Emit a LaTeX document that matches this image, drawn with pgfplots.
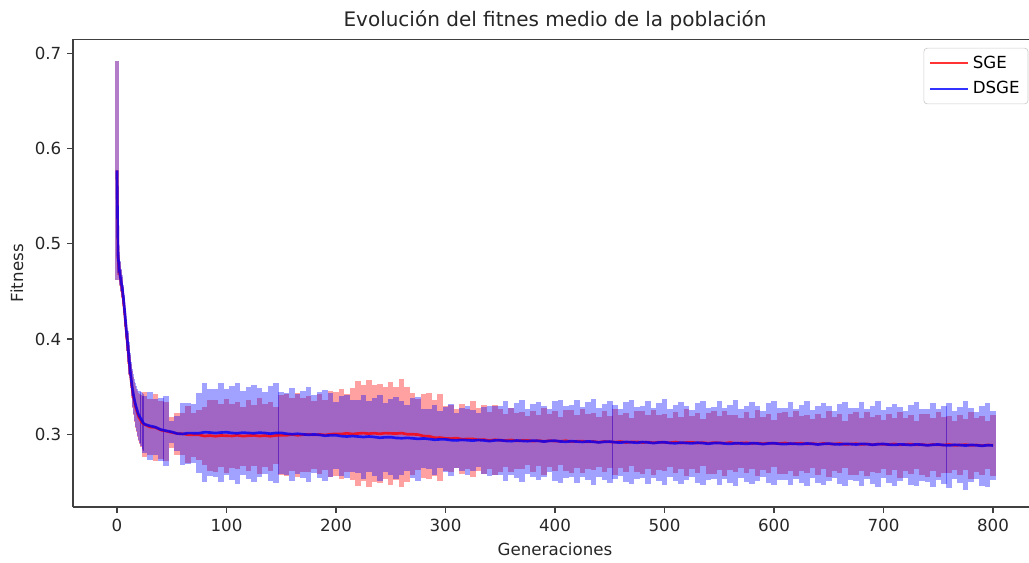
\documentclass[border=0pt]{standalone}
\usepackage{pgfplots}
\pgfplotsset{compat=1.18}
\usepackage{pgfplotstable}
\usepackage{fontspec}
\setmainfont{DejaVu Sans}

% SGE, generations 0-25 (one row per generation)
\pgfplotstableread{
x y e
0 0.577 0.115
1 0.485 0.018
2 0.472 0.016
3 0.465 0.016
4 0.458 0.015
5 0.450 0.015
6 0.440 0.015
7 0.428 0.015
8 0.415 0.015
9 0.402 0.015
10 0.390 0.016
11 0.378 0.016
12 0.366 0.017
13 0.356 0.018
14 0.347 0.019
15 0.340 0.020
16 0.334 0.021
17 0.329 0.022
18 0.325 0.023
19 0.321 0.024
20 0.318 0.025
21 0.316 0.026
22 0.314 0.027
23 0.312 0.028
24 0.311 0.029
25 0.3104 0.034
}\sgeEarly

% SGE, generations 25-800 (every 5)
\pgfplotstableread{
x y e
25 0.3104 0.034
30 0.3077 0.029
35 0.3072 0.035
40 0.3045 0.030
45 0.3033 0.031
50 0.3020 0.016
55 0.3008 0.022
60 0.3005 0.022
65 0.2996 0.030
70 0.2996 0.023
75 0.2994 0.026
80 0.2982 0.030
85 0.2987 0.037
90 0.2980 0.038
95 0.2988 0.033
100 0.2985 0.039
105 0.2983 0.034
110 0.2990 0.035
115 0.2981 0.031
120 0.2986 0.037
125 0.2989 0.032
130 0.2982 0.040
135 0.2987 0.033
140 0.2980 0.036
145 0.2988 0.030
150 0.2990 0.042
155 0.2990 0.043
160 0.2998 0.038
165 0.2990 0.044
170 0.2996 0.039
175 0.3000 0.040
180 0.2994 0.036
185 0.2999 0.042
190 0.2993 0.037
195 0.3001 0.045
200 0.3005 0.044
205 0.3003 0.047
210 0.3011 0.041
215 0.3003 0.048
220 0.3009 0.055
225 0.3013 0.050
230 0.3007 0.056
235 0.3012 0.051
240 0.3005 0.052
245 0.3013 0.048
250 0.3010 0.054
255 0.3008 0.049
260 0.3013 0.057
265 0.3001 0.050
270 0.3001 0.043
275 0.2997 0.037
280 0.2982 0.044
285 0.2980 0.045
290 0.2965 0.040
295 0.2966 0.046
300 0.2958 0.034
305 0.2955 0.035
310 0.2960 0.031
315 0.2949 0.037
320 0.2951 0.032
325 0.2952 0.040
330 0.2942 0.033
335 0.2945 0.036
340 0.2935 0.030
345 0.2943 0.037
350 0.2938 0.033
355 0.2935 0.028
360 0.2941 0.034
365 0.2931 0.029
370 0.2935 0.030
375 0.2937 0.026
380 0.2929 0.032
385 0.2934 0.027
390 0.2926 0.035
395 0.2933 0.028
400 0.2930 0.031
405 0.2927 0.025
410 0.2933 0.032
415 0.2923 0.033
420 0.2927 0.028
425 0.2929 0.034
430 0.2921 0.029
435 0.2925 0.030
440 0.2917 0.026
445 0.2925 0.032
450 0.2921 0.027
455 0.2918 0.035
460 0.2924 0.028
465 0.2914 0.031
470 0.2919 0.025
475 0.2921 0.032
480 0.2914 0.033
485 0.2918 0.028
490 0.2911 0.034
495 0.2918 0.029
500 0.2915 0.030
505 0.2912 0.026
510 0.2919 0.032
515 0.2909 0.027
520 0.2914 0.035
525 0.2916 0.028
530 0.2909 0.031
535 0.2913 0.025
540 0.2906 0.032
545 0.2913 0.033
550 0.2910 0.028
555 0.2907 0.034
560 0.2914 0.029
565 0.2904 0.030
570 0.2909 0.026
575 0.2911 0.032
580 0.2904 0.027
585 0.2908 0.035
590 0.2901 0.028
595 0.2908 0.031
600 0.2905 0.025
605 0.2903 0.032
610 0.2909 0.033
615 0.2900 0.028
620 0.2904 0.034
625 0.2906 0.029
630 0.2899 0.030
635 0.2903 0.026
640 0.2896 0.032
645 0.2904 0.027
650 0.2900 0.035
655 0.2898 0.028
660 0.2903 0.031
665 0.2894 0.025
670 0.2898 0.032
675 0.2901 0.033
680 0.2894 0.028
685 0.2898 0.034
690 0.2891 0.029
695 0.2898 0.030
700 0.2895 0.026
705 0.2893 0.032
710 0.2899 0.027
715 0.2889 0.035
720 0.2894 0.028
725 0.2897 0.031
730 0.2889 0.025
735 0.2893 0.032
740 0.2886 0.033
745 0.2893 0.028
750 0.2890 0.034
755 0.2888 0.029
760 0.2893 0.030
765 0.2884 0.026
770 0.2888 0.032
775 0.2891 0.027
780 0.2884 0.035
785 0.2888 0.028
790 0.2881 0.031
795 0.2888 0.025
800 0.2885 0.032
}\sgeMain

% DSGE, generations 0-25
\pgfplotstableread{
x y e
0 0.577 0.115
1 0.487 0.018
2 0.474 0.017
3 0.466 0.016
4 0.459 0.015
5 0.452 0.015
6 0.442 0.015
7 0.430 0.016
8 0.417 0.015
9 0.404 0.016
10 0.392 0.016
11 0.380 0.017
12 0.368 0.017
13 0.358 0.018
14 0.349 0.020
15 0.342 0.021
16 0.336 0.022
17 0.331 0.023
18 0.327 0.024
19 0.323 0.025
20 0.320 0.026
21 0.318 0.027
22 0.316 0.028
23 0.314 0.029
24 0.312 0.030
25 0.3107 0.030
}\dsgeEarly

% DSGE, generations 25-800 (every 5)
\pgfplotstableread{
x y e
25 0.3107 0.030
30 0.3089 0.036
35 0.3076 0.029
40 0.3050 0.033
45 0.3037 0.037
50 0.3025 0.012
55 0.3008 0.018
60 0.3004 0.033
65 0.3013 0.032
70 0.3012 0.031
75 0.3012 0.042
80 0.3022 0.052
85 0.3019 0.046
90 0.3013 0.046
95 0.3019 0.052
100 0.3022 0.045
105 0.3014 0.049
110 0.3011 0.053
115 0.3018 0.044
120 0.3014 0.048
125 0.3011 0.051
130 0.3017 0.047
135 0.3014 0.043
140 0.3007 0.050
145 0.3014 0.052
150 0.3015 0.043
155 0.3006 0.043
160 0.3001 0.049
165 0.3006 0.042
170 0.3000 0.046
175 0.2995 0.050
180 0.2999 0.041
185 0.2994 0.045
190 0.2985 0.048
195 0.2990 0.044
200 0.2990 0.035
205 0.2981 0.042
210 0.2977 0.044
215 0.2982 0.038
220 0.2977 0.038
225 0.2972 0.044
230 0.2977 0.037
235 0.2972 0.041
240 0.2964 0.045
245 0.2969 0.036
250 0.2970 0.040
255 0.2962 0.043
260 0.2959 0.039
265 0.2963 0.035
270 0.2958 0.042
275 0.2952 0.044
280 0.2957 0.031
285 0.2951 0.031
290 0.2943 0.037
295 0.2947 0.030
300 0.2947 0.034
305 0.2939 0.038
310 0.2936 0.029
315 0.2942 0.033
320 0.2938 0.036
325 0.2934 0.032
330 0.2940 0.028
335 0.2936 0.035
340 0.2929 0.037
345 0.2936 0.036
350 0.2938 0.036
355 0.2931 0.042
360 0.2928 0.035
365 0.2935 0.039
370 0.2931 0.043
375 0.2928 0.034
380 0.2934 0.038
385 0.2931 0.041
390 0.2924 0.037
395 0.2931 0.033
400 0.2933 0.042
405 0.2925 0.044
410 0.2922 0.038
415 0.2928 0.038
420 0.2924 0.044
425 0.2920 0.037
430 0.2926 0.041
435 0.2922 0.045
440 0.2915 0.036
445 0.2922 0.040
450 0.2924 0.043
455 0.2916 0.039
460 0.2913 0.035
465 0.2920 0.042
470 0.2916 0.044
475 0.2912 0.038
480 0.2919 0.038
485 0.2915 0.044
490 0.2908 0.037
495 0.2915 0.041
500 0.2917 0.045
505 0.2909 0.036
510 0.2906 0.040
515 0.2913 0.043
520 0.2909 0.039
525 0.2905 0.035
530 0.2912 0.042
535 0.2908 0.044
540 0.2901 0.038
545 0.2908 0.038
550 0.2910 0.044
555 0.2903 0.037
560 0.2900 0.041
565 0.2907 0.045
570 0.2904 0.036
575 0.2900 0.040
580 0.2907 0.043
585 0.2904 0.039
590 0.2897 0.035
595 0.2904 0.042
600 0.2907 0.044
605 0.2900 0.038
610 0.2897 0.038
615 0.2903 0.044
620 0.2900 0.037
625 0.2897 0.041
630 0.2904 0.045
635 0.2900 0.036
640 0.2893 0.040
645 0.2899 0.043
650 0.2903 0.039
655 0.2896 0.035
660 0.2894 0.042
665 0.2900 0.044
670 0.2897 0.038
675 0.2893 0.038
680 0.2900 0.044
685 0.2897 0.037
690 0.2890 0.041
695 0.2896 0.045
700 0.2899 0.036
705 0.2892 0.040
710 0.2889 0.043
715 0.2895 0.039
720 0.2892 0.035
725 0.2888 0.042
730 0.2895 0.044
735 0.2891 0.038
740 0.2884 0.038
745 0.2890 0.044
750 0.2894 0.037
755 0.2887 0.041
760 0.2884 0.045
765 0.2890 0.036
770 0.2887 0.040
775 0.2882 0.047
780 0.2889 0.039
785 0.2885 0.035
790 0.2879 0.042
795 0.2886 0.044
800 0.2883 0.036
}\dsgeMain

\pgfplotsset{
  bars/.style n args={4}{forget plot, draw=none, mark=none,
    restrict x to domain=#2,
    error bars/.cd, y dir=both, y explicit, error mark=none,
    error bar style={draw=#1, draw opacity=#4, line width=#3, line cap=butt}},
}

\begin{document}
\begin{tikzpicture}
\begin{axis}[
  scale only axis, width=578.2pt, height=280.6pt,
  xmin=-40, xmax=840, ymin=0.2237, ymax=0.7147,
  xtick={0,100,...,800}, ytick={0.3,0.4,0.5,0.6,0.7},
  /pgf/number format/assume math mode=true,
  yticklabel style={/pgf/number format/.cd, fixed, precision=1, zerofill},
  axis x line*=bottom, axis y line*=left,
  tick align=outside, major tick length=3.6pt,
  axis line style={black!75, line width=0.8pt, -},
  every tick/.style={black!75, line width=0.8pt},
  tick label style={font=\fontsize{10}{12}\selectfont, text=black!85},
  label style={font=\fontsize{10}{12}\selectfont, text=black!85},
  title style={font=\fontsize{12}{14}\selectfont, text=black!85, yshift=-4.2pt},
  title={Evolución del fitnes medio de la población},
  xlabel={Generaciones}, ylabel={Fitness},
  legend style={at={(1,1)}, anchor=north east, xshift=-5.1pt, yshift=-5.1pt,
    draw=black!20, rounded corners=2pt, font=\fontsize{10}{12}\selectfont,
    inner xsep=3pt, inner ysep=2.5pt, row sep=2.6pt},
  legend cell align=left,
  legend image code/.code={\draw[#1] (0cm,0cm) -- (0.8cm,0cm);},
]
% SGE error bars
\addplot[bars={red}{-1:0.5}{2.4pt}{0.3}] table[x=x, y=y, y error=e] {\sgeEarly};
\addplot[bars={red}{0.5:24.5}{0.7pt}{0.37}] table[x=x, y=y, y error=e] {\sgeEarly};
\addplot[bars={red}{24:801}{3.3pt}{0.37}] table[x=x, y=y, y error=e] {\sgeMain};
% DSGE error bars
\addplot[bars={blue}{-1:0.5}{2.4pt}{0.3}] table[x=x, y=y, y error=e] {\dsgeEarly};
\addplot[bars={blue}{0.5:24.5}{0.7pt}{0.37}] table[x=x, y=y, y error=e] {\dsgeEarly};
\addplot[bars={blue}{24:801}{3.3pt}{0.37}] table[x=x, y=y, y error=e] {\dsgeMain};
% mean lines
\addplot[red, draw opacity=0.8, line width=1.6pt, mark=none, forget plot] table[x=x, y=y] {\sgeEarly};
\addplot[red, draw opacity=0.8, line width=1.6pt, mark=none] table[x=x, y=y] {\sgeMain};
\addlegendentry{SGE}
\addplot[blue, draw opacity=0.8, line width=1.6pt, mark=none, forget plot] table[x=x, y=y] {\dsgeEarly};
\addplot[blue, draw opacity=0.8, line width=1.6pt, mark=none] table[x=x, y=y] {\dsgeMain};
\addlegendentry{DSGE}
\draw[black!75, line width=0.8pt] (rel axis cs:0,1) -- (rel axis cs:1,1);
\end{axis}
\pgfresetboundingbox
\useasboundingbox (-43.9pt,-33pt) rectangle (573.5pt,304.2pt);
\end{tikzpicture}
\end{document}
